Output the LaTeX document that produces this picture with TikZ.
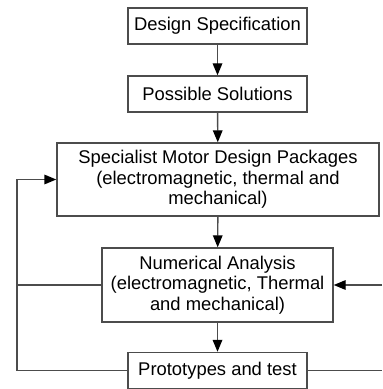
\documentclass[tikz,border=0pt]{standalone}
\usepackage{fontspec}
\setmainfont{Liberation Sans}
\usetikzlibrary{arrows.meta}

\tikzset{
  stage/.style={draw=black!70,line width=0.7pt,align=center,inner sep=0pt,
    font=\fontsize{9.2}{10.3}\selectfont},
  link/.style={draw=black!70,line width=0.7pt},
  flow/.style={link,-{Triangle[length=6pt,width=4.8pt,black]}},
}

\begin{document}
\begin{tikzpicture}[x=0.5pt,y=-0.5pt]
\useasboundingbox (0,0) rectangle (382,389);
\node[stage,minimum width=89.5pt,minimum height=18pt] (spec) at (217.5,26) {Design Specification};
\node[stage,minimum width=89.5pt,minimum height=18pt] (sol) at (217.5,94) {Possible Solutions};
\node[stage,minimum width=161pt,minimum height=36.5pt] (pkg) at (218,179.5)
  {Specialist Motor Design Packages\\(electromagnetic, thermal and\\mechanical)};
\node[stage,minimum width=115.5pt,minimum height=37pt] (num) at (217.5,285)
  {Numerical Analysis\\(electromagnetic, Thermal\\and mechanical)};
\node[stage,minimum width=89.5pt,minimum height=18pt] (proto) at (217.5,370.5) {Prototypes and test};
% main flow
\draw[flow] (spec) -- (sol);
\draw[flow] (sol) -- (pkg);
\draw[flow] (pkg) -- (num);
\draw[flow] (num) -- (proto);
% feedback loops
\coordinate (lx) at (17,0);
\coordinate (rx) at (382,0);
\draw[flow] (proto.west) -- (proto.west -| lx) |- (pkg.west);
\draw[link] (num.west) -- (num.west -| lx);
\draw[link] (proto.east) -- (proto.east -| rx);
\draw[flow] (num.east -| rx) -- (num.east);
\end{tikzpicture}
\end{document}
